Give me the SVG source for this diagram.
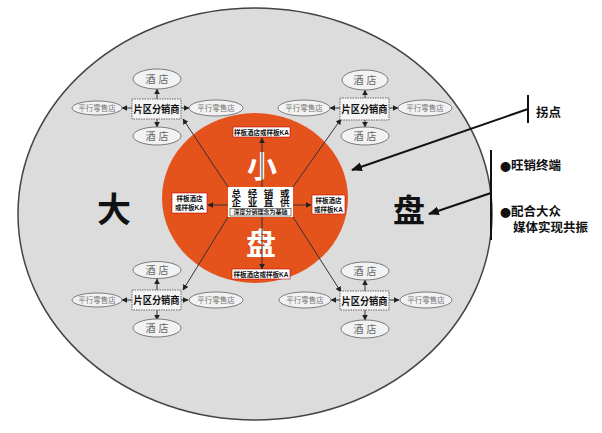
<svg xmlns="http://www.w3.org/2000/svg" width="602" height="433" viewBox="0 0 602 433">
<defs>
<style>
text{font-family:"Liberation Sans","Noto Sans CJK SC",sans-serif;text-anchor:middle;dominant-baseline:central}
.ov{fill:#f2f2f2;stroke:#7a7a7a;stroke-width:1}
.ovt{fill:#666;font-size:10px}
.ovs{fill:#777;font-size:7.5px}
.bx{fill:#f4f4f4;stroke:#666;stroke-width:1;stroke-dasharray:1.5 1}
.bxt{fill:#111;font-size:10.5px;font-weight:bold}
.ln{stroke:#333;stroke-width:1;fill:none}
.lb{fill:#fff;stroke:#b00;stroke-width:0.6}
.lbt{fill:#111;font-size:6.5px;font-weight:bold}
.big{fill:#fff;font-size:30px;font-weight:bold}
.side{fill:#111;font-size:12.5px;font-weight:bold;text-anchor:start}
.ctr{font-size:9.5px;font-weight:bold;fill:#111}
.bul{font-family:"Noto Sans CJK SC",sans-serif;font-size:11px}
</style>
<marker id="ah" viewBox="0 0 10 10" refX="9" refY="5" markerWidth="6" markerHeight="6" orient="auto-start-reverse" markerUnits="userSpaceOnUse">
<path d="M0,0 L10,5 L0,10 z" fill="#222"/>
</marker>
<marker id="ahb" viewBox="0 0 10 10" refX="9" refY="5" markerWidth="11" markerHeight="11" orient="auto" markerUnits="userSpaceOnUse">
<path d="M0,1 L10,5 L0,9 z" fill="#111"/>
</marker>
</defs>

<g id="outer">
<ellipse cx="255" cy="214" rx="237" ry="206" fill="#dcdcdc" stroke="#444" stroke-width="1.5"/>
<text x="114" y="210" style="font-size:34px;font-weight:bold;fill:#111">大</text>
<text x="409" y="211" style="font-size:32px;font-weight:bold;fill:#111">盘</text>
</g>

<g id="inner">
<ellipse cx="255" cy="198" rx="93" ry="85" fill="#e5531c"/>
<text class="big" x="262" y="166">小</text>
<text class="big" x="261" y="243">盘</text>
</g>

<g id="connectors">
<line class="ln" x1="228" y1="187" x2="183" y2="119" marker-end="url(#ah)"/>
<line class="ln" x1="293" y1="187" x2="341" y2="119" marker-end="url(#ah)"/>
<line class="ln" x1="228" y1="217" x2="183" y2="290" marker-end="url(#ah)"/>
<line class="ln" x1="293" y1="217" x2="341" y2="292" marker-end="url(#ah)"/>
<line class="ln" x1="262" y1="187" x2="262" y2="138" marker-end="url(#ah)"/>
<line class="ln" x1="262" y1="217" x2="262" y2="269" marker-end="url(#ah)"/>
<line class="ln" x1="228" y1="205" x2="208" y2="205" marker-end="url(#ah)"/>
<line class="ln" x1="293" y1="205" x2="311" y2="205" marker-end="url(#ah)"/>
<g id="c1a">
<line class="ln" x1="157" y1="99" x2="157" y2="89" marker-end="url(#ah)"/>
<line class="ln" x1="157" y1="119" x2="157" y2="127" marker-end="url(#ah)"/>
<line class="ln" x1="132" y1="108" x2="122" y2="108" marker-end="url(#ah)"/>
<line class="ln" x1="181" y1="108" x2="189" y2="108" marker-end="url(#ah)"/>
</g>
<g id="c2a">
<line class="ln" x1="365" y1="98" x2="365" y2="90" marker-end="url(#ah)"/>
<line class="ln" x1="365" y1="120" x2="365" y2="127" marker-end="url(#ah)"/>
<line class="ln" x1="340" y1="108" x2="330" y2="108" marker-end="url(#ah)"/>
<line class="ln" x1="389" y1="108" x2="398" y2="108" marker-end="url(#ah)"/>
</g>
<g id="c3a">
<line class="ln" x1="157" y1="290" x2="157" y2="279" marker-end="url(#ah)"/>
<line class="ln" x1="157" y1="310" x2="157" y2="320" marker-end="url(#ah)"/>
<line class="ln" x1="132" y1="300" x2="122" y2="300" marker-end="url(#ah)"/>
<line class="ln" x1="181" y1="300" x2="188" y2="300" marker-end="url(#ah)"/>
</g>
<g id="c4a">
<line class="ln" x1="365" y1="291" x2="365" y2="280" marker-end="url(#ah)"/>
<line class="ln" x1="365" y1="310" x2="365" y2="320" marker-end="url(#ah)"/>
<line class="ln" x1="340" y1="300" x2="331" y2="300" marker-end="url(#ah)"/>
<line class="ln" x1="389" y1="300" x2="399" y2="300" marker-end="url(#ah)"/>
</g>
<line x1="528" y1="109" x2="352" y2="170" stroke="#111" stroke-width="2" marker-end="url(#ahb)"/>
<line x1="491" y1="193" x2="429" y2="214" stroke="#111" stroke-width="2" marker-end="url(#ahb)"/>
<line x1="528" y1="95" x2="528" y2="123" stroke="#111" stroke-width="2"/>
<line x1="491" y1="150" x2="491" y2="240" stroke="#111" stroke-width="2"/>
</g>

<g id="center">
<rect x="228" y="187" width="65" height="30" fill="#fff"/>
<text class="ctr" x="260.5" y="193" textLength="58" lengthAdjust="spacing">总经销或</text>
<text class="ctr" x="260.5" y="202.5" textLength="58" lengthAdjust="spacing">企业直供</text>
<rect x="230" y="208.5" width="61" height="7.5" fill="#fff" stroke="#333" stroke-width="0.6"/>
<text x="260.5" y="212.3" style="font-size:6px;font-weight:bold;fill:#222">深度分销理念为基础</text>
</g>

<g id="ka-top"><rect class="lb" x="233" y="127" width="57" height="10"/><text class="lbt" x="261.5" y="132">样板酒店或样板KA</text></g>
<g id="ka-bottom"><rect class="lb" x="232" y="269" width="58" height="10"/><text class="lbt" x="261" y="274">样板酒店或样板KA</text></g>
<g id="ka-left"><rect class="lb" x="172" y="193" width="35" height="20"/><text class="lbt" x="189.5" y="198.5">样板酒店</text><text class="lbt" x="189.5" y="207.5">或样板KA</text></g>
<g id="ka-right"><rect class="lb" x="312" y="195" width="33" height="19"/><text class="lbt" x="328.5" y="200">样板酒店</text><text class="lbt" x="328.5" y="209">或样板KA</text></g>

<g id="cluster-tl">
<rect class="bx" x="132" y="99" width="49" height="20"/><text class="bxt" x="156.5" y="109" textLength="46" lengthAdjust="spacingAndGlyphs">片区分销商</text>
<ellipse class="ov" cx="157" cy="79" rx="24" ry="10"/><text class="ovt" x="157" y="79">酒  店</text>
<ellipse class="ov" cx="157" cy="136" rx="24" ry="9"/><text class="ovt" x="157" y="136">酒  店</text>
<ellipse class="ov" cx="97" cy="108" rx="25" ry="7"/><text class="ovs" x="97" y="108">平行零售店</text>
<ellipse class="ov" cx="216" cy="108" rx="27" ry="8"/><text class="ovs" x="216" y="108">平行零售店</text>
</g>
<g id="cluster-tr">
<rect class="bx" x="340" y="98" width="49" height="22"/><text class="bxt" x="364.5" y="109" textLength="46" lengthAdjust="spacingAndGlyphs">片区分销商</text>
<ellipse class="ov" cx="365" cy="80" rx="23" ry="10"/><text class="ovt" x="365" y="80">酒  店</text>
<ellipse class="ov" cx="365" cy="136" rx="24" ry="9"/><text class="ovt" x="365" y="136">酒  店</text>
<ellipse class="ov" cx="304" cy="108" rx="26" ry="8"/><text class="ovs" x="304" y="108">平行零售店</text>
<ellipse class="ov" cx="425" cy="108" rx="27" ry="8"/><text class="ovs" x="425" y="108">平行零售店</text>
</g>
<g id="cluster-bl">
<rect class="bx" x="132" y="290" width="49" height="20"/><text class="bxt" x="156.5" y="300" textLength="46" lengthAdjust="spacingAndGlyphs">片区分销商</text>
<ellipse class="ov" cx="157" cy="270" rx="24" ry="8.5"/><text class="ovt" x="157" y="270">酒  店</text>
<ellipse class="ov" cx="157" cy="328" rx="24" ry="9"/><text class="ovt" x="157" y="328">酒  店</text>
<ellipse class="ov" cx="97" cy="300" rx="25" ry="7"/><text class="ovs" x="97" y="300">平行零售店</text>
<ellipse class="ov" cx="216" cy="300" rx="27" ry="8"/><text class="ovs" x="216" y="300">平行零售店</text>
</g>
<g id="cluster-br">
<rect class="bx" x="340" y="291" width="49" height="19"/><text class="bxt" x="364.5" y="300.5" textLength="46" lengthAdjust="spacingAndGlyphs">片区分销商</text>
<ellipse class="ov" cx="365" cy="271" rx="24" ry="9"/><text class="ovt" x="365" y="271">酒  店</text>
<ellipse class="ov" cx="365" cy="329" rx="24" ry="9"/><text class="ovt" x="365" y="329">酒  店</text>
<ellipse class="ov" cx="305" cy="300" rx="26" ry="8"/><text class="ovs" x="305" y="300">平行零售店</text>
<ellipse class="ov" cx="426" cy="300" rx="26" ry="8"/><text class="ovs" x="426" y="300">平行零售店</text>
</g>

<g id="labels">
<text class="side" x="536" y="113">拐点</text>
<text class="side" x="500" y="166"><tspan class="bul">●</tspan>旺销终端</text>
<text class="side" x="500" y="212"><tspan class="bul">●</tspan>配合大众</text>
<text class="side" x="513" y="228">媒体实现共振</text>
</g>
</svg>
